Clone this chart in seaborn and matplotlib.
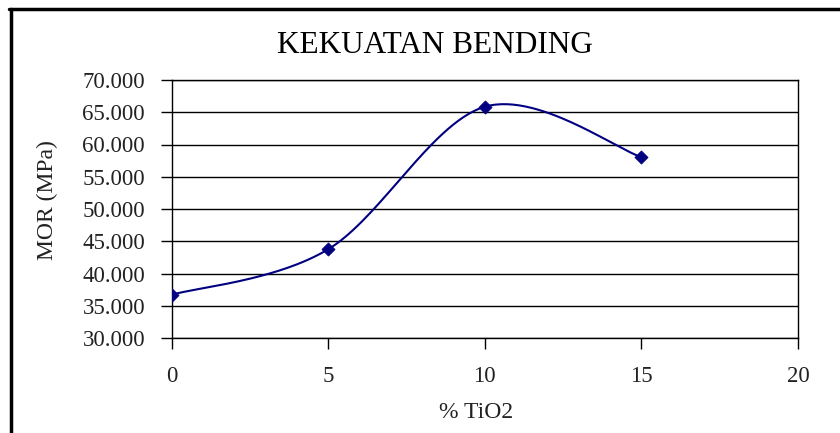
import numpy as np
import pandas as pd
import matplotlib
matplotlib.use("Agg")
import matplotlib.pyplot as plt
from matplotlib.lines import Line2D
import seaborn as sns

# data
tio2 = [0, 5, 10, 15]
mor = [36.7, 43.75, 65.85, 58.05]
x_ticks = [0, 5, 10, 15, 20]
y_ticks = [30, 35, 40, 45, 50, 55, 60, 65, 70]
y_tick_labels = ["30.000", "35.000", "40.000", "45.000", "50.000",
                 "55.000", "60.000", "65.000", "70.000"]
title = "KEKUATAN BENDING"
xlabel = "% TiO2"
ylabel = "MOR (MPa)"

sns.set_theme(style="white")
plt.rcParams['font.family'] = ['Liberation Serif', 'DejaVu Serif']

W, H = 840, 433
fig = plt.figure(figsize=(W / 100, H / 100), dpi=100)
ax = fig.add_axes([171.5 / W, 1 - 338 / H, (798 - 171.5) / W, (338 - 80) / H])

# Excel-like smoothed line (Bezier, Catmull-Rom style control points)
P = np.column_stack([tio2, mor]).astype(float)
ext = np.vstack([P[0], P, P[-1]])
curve = []
t = np.linspace(0, 1, 60)[:, None]
for i in range(len(P) - 1):
    p0, p1, p2, p3 = ext[i], ext[i + 1], ext[i + 2], ext[i + 3]
    c1 = p1 + (p2 - p0) / 6
    c2 = p2 - (p3 - p1) / 6
    seg = ((1 - t) ** 3) * p1 + 3 * ((1 - t) ** 2) * t * c1 + 3 * (1 - t) * t ** 2 * c2 + t ** 3 * p2
    curve.append(seg)
curve = np.vstack(curve)
ax.plot(curve[:, 0], curve[:, 1], color="#000080", lw=1.5, zorder=3)

df = pd.DataFrame({"x": tio2, "y": mor})
sns.scatterplot(data=df, x="x", y="y", ax=ax, marker="D", s=45,
                color="#000080", edgecolor="#000080", zorder=4)

ax.set_xlim(0, 20)
ax.set_ylim(30, 70)
ax.set_xticks(x_ticks)
ax.set_xticklabels([str(v) for v in x_ticks])
ax.set_yticks(y_ticks)
ax.set_yticklabels(y_tick_labels)
ax.yaxis.grid(True, color="black", lw=1.0)
ax.xaxis.grid(False)
ax.set_axisbelow(True)
for s in ax.spines.values():
    s.set_visible(True)
    s.set_color("black")
    s.set_linewidth(1.0)
ax.tick_params(axis="both", which="major", direction="out", length=8, width=1,
               color="black", labelsize=16.5, labelcolor="#222222", left=True, bottom=True)
ax.tick_params(axis="x", pad=12)
ax.tick_params(axis="y", pad=11)
ax.set_xlabel("")
ax.set_ylabel("")

fig.text(476 / W, 1 - 418 / H, xlabel, fontsize=17, color="#222222",
         ha="center", va="baseline")
fig.text(47 / W, 1 - 200 / H, ylabel, fontsize=17, color="#222222",
         ha="center", va="center", rotation=90)
fig.text(435 / W, 1 - 53 / H, title, fontsize=22.5, color="black",
         ha="center", va="baseline")

# outer frame (left and top edges)
fig.add_artist(Line2D([10.5 / W, 10.5 / W], [0, 1 - 9 / H], transform=fig.transFigure,
                      color="black", lw=2.5))
fig.add_artist(Line2D([9 / W, 1], [1 - 9 / H, 1 - 9 / H], transform=fig.transFigure,
                      color="black", lw=2.5))

fig.savefig("out.png", dpi=100)
